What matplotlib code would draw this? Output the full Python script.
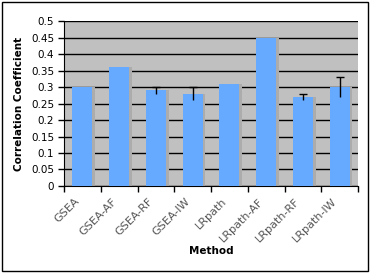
import numpy as np
import matplotlib
matplotlib.use("Agg")
import matplotlib.pyplot as plt
from matplotlib.patches import Rectangle
from matplotlib.transforms import ScaledTranslation

# ----------------------------
# Data
# ----------------------------
methods = ["GSEA", "GSEA-AF", "GSEA-RF", "GSEA-IW",
           "LRpath", "LRpath-AF", "LRpath-RF", "LRpath-IW"]
corr = [0.30, 0.36, 0.29, 0.28, 0.31, 0.45, 0.27, 0.30]
err = [0.0, 0.0, 0.01, 0.02, 0.0, 0.0, 0.01, 0.03]

x = np.arange(len(methods))

fig = plt.figure(figsize=(3.71, 2.73), dpi=100)
ax = fig.add_axes([0.1725, 0.3187, 0.7925, 0.6043])
ax.set_facecolor("#c0c0c0")

# gridlines
ax.set_axisbelow(True)
ax.yaxis.grid(True, color="black", linewidth=1.0)

# shadow + bars
ax.bar(x + 0.07, corr, width=0.55, color="#acacac", zorder=2)
ax.bar(x, corr, width=0.55, color="#66aaff", zorder=3)

# error bars (only where there is an error), top cap only
mask = np.array(err) > 0
eb = ax.errorbar(x[mask], np.array(corr)[mask], yerr=np.array(err)[mask],
                 fmt="none", ecolor="black", elinewidth=1.0,
                 capsize=3, capthick=1.0, zorder=4)
eb[1][0].set_visible(False)

ax.set_xlim(-0.5, len(methods) - 0.5)
ax.set_ylim(0, 0.5)
yt = np.arange(0, 0.501, 0.05).round(2)
ax.set_yticks(yt)
ax.set_yticklabels([f"{v:g}" for v in yt], fontsize=7.5)

# x ticks: labels at centers, tick marks at category boundaries
ax.set_xticks(x)
ax.set_xticklabels(methods, rotation=45, ha="right", rotation_mode="anchor",
                   fontsize=8, color="#555555")
ax.tick_params(axis="x", which="major", length=0, pad=6)
shift = ScaledTranslation(-8 / 100, -2 / 100, fig.dpi_scale_trans)
for lab in ax.get_xticklabels():
    lab.set_transform(lab.get_transform() + shift)
ax.set_xticks(np.arange(-0.5, len(methods)), minor=True)
ax.tick_params(axis="x", which="minor", length=4, width=1, color="black")
ax.tick_params(axis="y", length=4, width=1, pad=3)

for side in ["top", "right"]:
    ax.spines[side].set_visible(False)

ax.set_ylabel("Correlation Coefficient", fontsize=7.5, fontweight="bold",
              labelpad=5)
ax.set_xlabel("Method", fontsize=7.5, fontweight="bold", labelpad=1)

# outer frame
fig.patches.append(Rectangle((0.005, 0.007), 0.988, 0.985, transform=fig.transFigure,
                             fill=False, edgecolor="black", linewidth=1.0))

fig.savefig("out.png", dpi=100)
